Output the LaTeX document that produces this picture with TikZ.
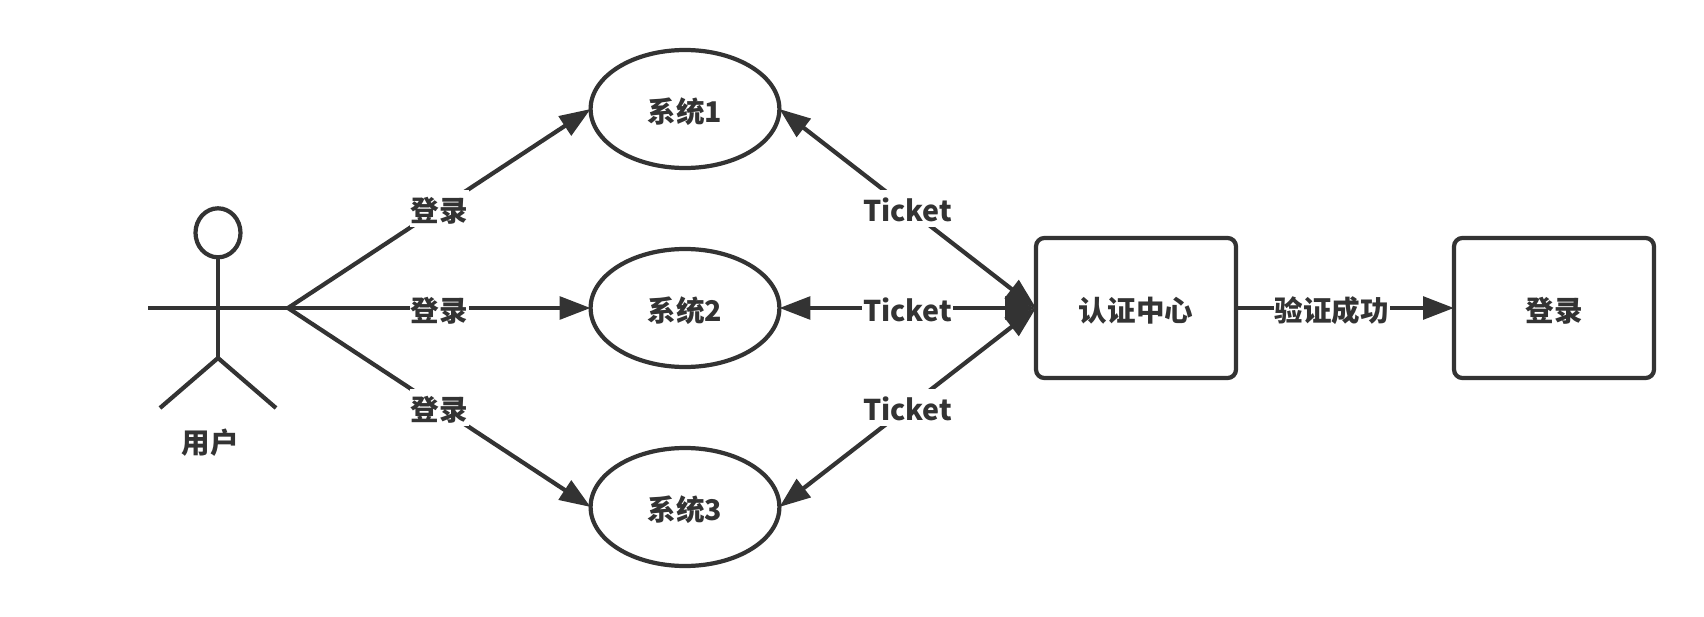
\documentclass[tikz,border=0pt]{standalone}
\usepackage{fontspec}
\setmainfont{Noto Sans CJK SC}
\usetikzlibrary{arrows.meta,shapes.geometric}
\definecolor{inkgray}{HTML}{333333}

\begin{document}
\begin{tikzpicture}[
    labeltext/.style={text=inkgray,font=\fontsize{20.3}{21}\bfseries,text height=22.3pt,text depth=3.2pt},
    system/.style={draw=inkgray,ellipse,line width=3pt,minimum width=4.72cm,minimum height=2.95cm,inner sep=0pt,outer sep=0pt,labeltext},
    center/.style={draw=inkgray,rectangle,rounded corners=6pt,line width=3pt,minimum width=5cm,minimum height=3.5cm,inner sep=0pt,outer sep=0pt,labeltext},
    edgelabel/.style={fill=white,inner sep=0.5pt,labeltext},
    limb/.style={draw=inkgray,line width=3pt},
    link/.style={draw=inkgray,line width=3pt,-{Triangle[length=22pt,width=16pt]}},
    both/.style={draw=inkgray,line width=3pt,{Triangle[length=22pt,width=16pt]}-{Triangle[length=22pt,width=16pt]}}]
      \useasboundingbox (0,0) rectangle (42.6,15.4);
      \node[system] (sys1) at (17.125,12.675) {系统1};
      \node[system] (sys2) at (17.125,7.7) {系统2};
      \node[system] (sys3) at (17.125,2.725) {系统3};
      \node[center] (auth) at (28.4,7.7) {认证中心};
      \node[center] (login) at (38.85,7.7) {登录};
      \node[draw=inkgray,ellipse,line width=3pt,minimum width=1.125cm,minimum height=1.225cm,inner sep=0pt,outer sep=0pt] (head) at (5.45,9.58) {};
      \coordinate (hip) at (5.45,6.45);
      \coordinate (armleft) at (3.7,7.7);
      \coordinate (armright) at (7.2,7.7);
      \coordinate (legleft) at (4,5.2);
      \coordinate (legright) at (6.9,5.2);
      \draw[limb] (head.south) -- (hip);
      \draw[limb] (armleft) -- (armright);
      \draw[limb] (legleft) -- (hip) -- (legright);
      \node[labeltext] (user) at (5.25,4.39) {用户};
      \draw[link] (armright) -- node[edgelabel] (login1) {登录} (sys1.west);
      \draw[link] (armright) -- node[edgelabel] (login2) {登录} (sys2.west);
      \draw[link] (armright) -- node[edgelabel] (login3) {登录} (sys3.west);
      \draw[both] (auth.west) -- node[edgelabel] (ticket1) {Ticket} (sys1.east);
      \draw[both] (auth.west) -- node[edgelabel] (ticket2) {Ticket} (sys2.east);
      \draw[both] (auth.west) -- node[edgelabel] (ticket3) {Ticket} (sys3.east);
      \draw[link] (auth.east) -- node[edgelabel,pos=0.44] (verify) {验证成功} (login.west);
    \end{tikzpicture}
\end{document}
